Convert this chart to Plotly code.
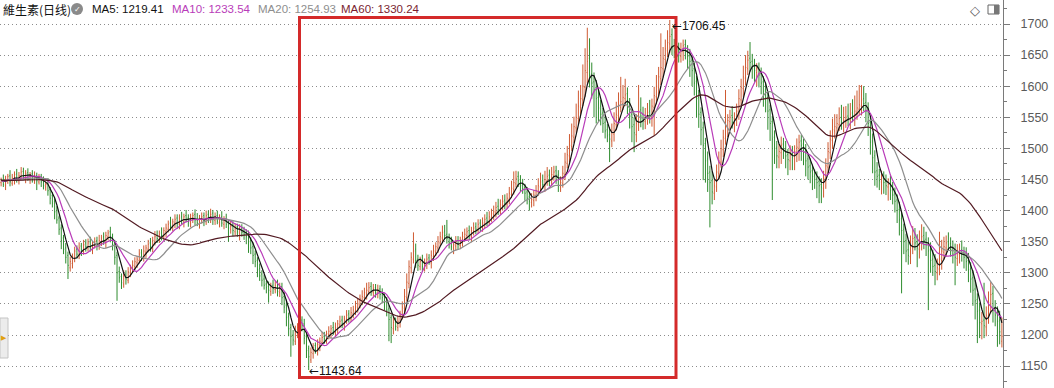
import plotly.graph_objects as go
import pandas as pd

# ---- data ----
hist_close = [1452, 1458, 1446, 1440, 1448, 1455, 1462, 1450, 1444, 1438,
              1446, 1452, 1460, 1455, 1448, 1442, 1436, 1444, 1450, 1458,
              1463, 1455, 1447, 1440, 1435, 1442, 1450, 1456, 1448, 1441,
              1437, 1445, 1452, 1458, 1450, 1444, 1439, 1446, 1454, 1460,
              1452, 1445, 1438, 1443, 1450, 1456, 1449, 1442, 1447, 1453,
              1458, 1450, 1444, 1440, 1446, 1452, 1457, 1450, 1445, 1449]

close = [
    1448, 1442, 1450, 1455, 1446, 1452, 1458, 1450, 1456, 1462,
    1455, 1460, 1452, 1458, 1450, 1455, 1448, 1453, 1446, 1440,
    1442, 1432, 1420, 1412, 1398, 1385, 1370, 1352, 1338, 1325,
    1312, 1318, 1326, 1335, 1330, 1340, 1336, 1345, 1342, 1348,
    1340, 1346, 1350, 1345, 1352, 1356, 1350, 1360, 1364, 1356,
    1345, 1325, 1300, 1292, 1284, 1295, 1290, 1302, 1308, 1312,
    1318, 1322, 1330, 1326, 1335, 1340, 1346, 1342, 1352, 1358,
    1355, 1362, 1360, 1368, 1372, 1378, 1375, 1382, 1386, 1380,
    1388, 1384, 1390, 1386, 1382, 1388, 1392, 1385, 1380, 1387,
    1390, 1384, 1392, 1388, 1394, 1386, 1390, 1383, 1388, 1380,
    1385, 1378, 1372, 1375, 1368, 1372, 1366, 1370, 1365, 1362,
    1358, 1350, 1340, 1328, 1318, 1305, 1295, 1288, 1280, 1276,
    1272, 1278, 1275, 1280, 1270, 1276, 1260, 1245, 1228, 1210,
    1198, 1192, 1205, 1212, 1220, 1215, 1195, 1175, 1165, 1172,
    1180, 1176, 1185, 1190, 1196, 1194, 1202, 1206, 1210, 1205,
    1212, 1218, 1222, 1218, 1226, 1232, 1228, 1236, 1240, 1245,
    1250, 1258, 1262, 1268, 1272, 1276, 1270, 1274, 1268, 1272,
    1265, 1260, 1252, 1240, 1225, 1212, 1220, 1214, 1222, 1232,
    1245, 1262, 1285, 1310, 1325, 1335, 1320, 1312, 1318, 1310,
    1316, 1322, 1318, 1328, 1335, 1342, 1350, 1358, 1365, 1360,
    1355, 1348, 1342, 1345, 1350, 1346, 1352, 1358, 1362, 1366,
    1360, 1368, 1372, 1370, 1378, 1375, 1380, 1386, 1383, 1390,
    1395, 1398, 1405, 1402, 1410, 1415, 1412, 1420, 1428, 1436,
    1445, 1452, 1448, 1440, 1435, 1428, 1420, 1415, 1418, 1425,
    1432, 1440, 1446, 1442, 1450, 1455, 1448, 1458, 1462, 1455,
    1440, 1445, 1460, 1478, 1490, 1505, 1520, 1535, 1550, 1568,
    1580, 1600, 1625, 1640, 1618, 1605, 1595, 1580, 1565, 1555,
    1540, 1528, 1520, 1515, 1525, 1540, 1555, 1568, 1575, 1582,
    1586, 1570, 1552, 1535, 1525, 1540, 1560, 1552, 1545, 1550,
    1558, 1552, 1568, 1585, 1600, 1615, 1630, 1645, 1660, 1670,
    1680, 1662, 1655, 1660, 1650, 1658, 1665, 1655, 1648, 1640,
    1625, 1605, 1580, 1555, 1530, 1505, 1480, 1460, 1445, 1430,
    1440, 1462, 1480, 1500, 1518, 1535, 1545, 1550, 1542, 1548,
    1560, 1580, 1598, 1615, 1630, 1642, 1638, 1632, 1625, 1628,
    1618, 1605, 1592, 1580, 1560, 1540, 1515, 1500, 1488, 1495,
    1505, 1498, 1488, 1482, 1490, 1485, 1495, 1502, 1510, 1505,
    1495, 1480, 1470, 1462, 1455, 1450, 1445, 1440, 1438, 1452,
    1472, 1495, 1515, 1530, 1535, 1540, 1548, 1542, 1545, 1550,
    1548, 1555, 1552, 1560, 1565, 1570, 1578, 1572, 1560, 1540,
    1510, 1485, 1462, 1455, 1448, 1452, 1445, 1440, 1442, 1432,
    1425, 1415, 1400, 1385, 1368, 1350, 1335, 1328, 1342, 1355,
    1348, 1340, 1350, 1358, 1352, 1345, 1335, 1320, 1310, 1302,
    1308, 1322, 1335, 1342, 1348, 1345, 1338, 1330, 1325, 1332,
    1335, 1330, 1325, 1318, 1305, 1290, 1272, 1255, 1238, 1220,
    1222, 1215, 1232, 1252, 1265, 1240, 1232, 1222, 1205, 1198]

open_ = [
    1445, 1450, 1441, 1448, 1456, 1444, 1451, 1459, 1448, 1455,
    1463, 1452, 1461, 1450, 1459, 1449, 1456, 1446, 1455, 1448,
    1438, 1444, 1434, 1424, 1415, 1400, 1388, 1372, 1356, 1340,
    1328, 1308, 1315, 1322, 1338, 1328, 1343, 1334, 1348, 1340,
    1350, 1338, 1344, 1352, 1343, 1350, 1358, 1348, 1358, 1366,
    1358, 1346, 1328, 1302, 1294, 1282, 1298, 1288, 1300, 1306,
    1310, 1316, 1320, 1332, 1324, 1333, 1338, 1348, 1340, 1350,
    1360, 1353, 1364, 1358, 1366, 1370, 1380, 1373, 1380, 1388,
    1378, 1390, 1382, 1392, 1388, 1380, 1386, 1394, 1387, 1378,
    1385, 1392, 1382, 1394, 1386, 1396, 1384, 1392, 1381, 1390,
    1378, 1387, 1380, 1370, 1377, 1366, 1374, 1364, 1372, 1367,
    1364, 1360, 1352, 1342, 1330, 1320, 1307, 1298, 1290, 1282,
    1278, 1270, 1280, 1273, 1284, 1268, 1278, 1262, 1248, 1230,
    1212, 1200, 1190, 1203, 1210, 1224, 1218, 1198, 1178, 1160,
    1170, 1183, 1174, 1183, 1188, 1198, 1192, 1200, 1204, 1212,
    1203, 1210, 1216, 1224, 1216, 1224, 1234, 1226, 1234, 1238,
    1243, 1248, 1256, 1260, 1266, 1270, 1278, 1268, 1276, 1266,
    1274, 1267, 1262, 1254, 1242, 1228, 1210, 1222, 1212, 1220,
    1230, 1243, 1260, 1283, 1308, 1322, 1338, 1322, 1310, 1320,
    1308, 1314, 1324, 1316, 1326, 1333, 1340, 1348, 1356, 1367,
    1362, 1357, 1350, 1340, 1343, 1352, 1344, 1350, 1356, 1360,
    1368, 1358, 1366, 1374, 1368, 1380, 1373, 1378, 1388, 1381,
    1388, 1393, 1396, 1407, 1400, 1408, 1417, 1410, 1418, 1426,
    1434, 1443, 1455, 1450, 1442, 1437, 1430, 1422, 1413, 1416,
    1423, 1430, 1438, 1448, 1440, 1448, 1457, 1446, 1456, 1464,
    1457, 1438, 1443, 1458, 1476, 1488, 1503, 1518, 1533, 1548,
    1566, 1578, 1598, 1622, 1645, 1620, 1607, 1598, 1582, 1568,
    1557, 1542, 1530, 1522, 1512, 1523, 1538, 1553, 1566, 1572,
    1580, 1588, 1572, 1555, 1538, 1522, 1538, 1562, 1555, 1543,
    1548, 1560, 1550, 1566, 1583, 1598, 1612, 1628, 1643, 1657,
    1668, 1683, 1664, 1652, 1662, 1648, 1656, 1667, 1657, 1650,
    1642, 1628, 1608, 1582, 1558, 1533, 1508, 1483, 1462, 1448,
    1428, 1438, 1460, 1478, 1498, 1516, 1533, 1543, 1553, 1540,
    1546, 1558, 1578, 1596, 1613, 1628, 1645, 1640, 1634, 1622,
    1630, 1620, 1607, 1594, 1582, 1562, 1543, 1518, 1502, 1486,
    1493, 1507, 1500, 1490, 1480, 1492, 1483, 1493, 1500, 1512,
    1507, 1497, 1483, 1472, 1464, 1457, 1452, 1447, 1442, 1436,
    1450, 1470, 1493, 1513, 1528, 1533, 1538, 1550, 1540, 1543,
    1552, 1546, 1557, 1550, 1558, 1563, 1568, 1580, 1574, 1562,
    1542, 1512, 1488, 1464, 1457, 1446, 1454, 1447, 1438, 1444,
    1434, 1427, 1417, 1402, 1387, 1370, 1352, 1337, 1326, 1340,
    1357, 1350, 1338, 1348, 1360, 1354, 1347, 1337, 1322, 1312,
    1300, 1306, 1320, 1333, 1340, 1350, 1347, 1340, 1332, 1323,
    1330, 1337, 1332, 1327, 1320, 1307, 1292, 1274, 1257, 1240,
    1218, 1224, 1213, 1230, 1250, 1267, 1242, 1234, 1224, 1190]

# upper / lower shadow lengths of each bar
up_wick = [
    5, 8, 6, 4, 9, 7, 5, 8, 6, 8,
    6, 5, 7, 4, 6, 8, 5, 6, 4, 7,
    5, 8, 4, 6, 5, 7, 4, 6, 5, 8,
    6, 8, 5, 7, 6, 9, 5, 8, 6, 7,
    8, 5, 7, 6, 9, 5, 7, 6, 5, 8,
    5, 7, 6, 8, 5, 9, 6, 7, 5, 8,
    7, 5, 8, 6, 9, 5, 7, 8, 6, 9,
    8, 6, 9, 5, 7, 6, 10, 5, 8, 6,
    6, 8, 5, 9, 6, 7, 5, 8, 9, 6,
    7, 5, 8, 6, 9, 5, 7, 8, 6, 9,
    6, 8, 5, 9, 6, 7, 5, 8, 6, 7,
    6, 8, 5, 7, 6, 5, 8, 6, 7, 5,
    8, 6, 9, 7, 5, 8, 6, 7, 9, 6,
    6, 8, 10, 7, 9, 6, 8, 7, 5, 8,
    7, 5, 8, 6, 9, 7, 5, 8, 6, 9,
    8, 6, 9, 7, 5, 8, 6, 9, 7, 10,
    9, 7, 10, 8, 12, 9, 7, 8, 6, 9,
    6, 8, 5, 7, 6, 5, 9, 6, 8, 7,
    9, 12, 14, 10, 8, 30, 9, 7, 8, 9,
    7, 9, 6, 8, 10, 7, 9, 8, 11, 10,
    23, 6, 8, 5, 9, 7, 6, 8, 9, 7,
    8, 6, 9, 7, 8, 6, 9, 8, 10, 9,
    8, 10, 9, 12, 8, 10, 9, 8, 10, 12,
    18, 12, 8, 7, 9, 6, 8, 7, 10, 8,
    9, 12, 15, 10, 14, 15, 9, 12, 10, 8,
    8, 10, 12, 15, 14, 18, 20, 16, 22, 25,
    22, 35, 36, 54, 32, 18, 15, 12, 14, 10,
    8, 10, 9, 12, 15, 18, 20, 22, 40, 20,
    26, 10, 9, 8, 12, 15, 42, 20, 12, 15,
    15, 18, 12, 14, 18, 16, 55, 18, 15, 20,
    26.45, 10, 12, 9, 8, 12, 10, 8, 9, 10,
    8, 10, 9, 12, 8, 10, 9, 12, 10, 15,
    10, 12, 15, 14, 12, 59, 10, 12, 15, 10,
    12, 15, 14, 18, 20, 15, 26, 12, 10, 9,
    8, 10, 9, 12, 10, 8, 9, 11, 10, 12,
    14, 10, 12, 9, 15, 12, 10, 14, 12, 10,
    9, 10, 8, 12, 10, 9, 11, 8, 10, 12,
    12, 15, 14, 18, 20, 15, 18, 20, 22, 18,
    20, 18, 22, 25, 28, 32, 24, 20, 15, 12,
    10, 12, 9, 14, 10, 12, 9, 11, 10, 12,
    12, 10, 9, 12, 10, 9, 11, 15, 18, 20,
    15, 12, 18, 20, 14, 12, 10, 12, 15, 18,
    15, 44, 18, 16, 12, 15, 10, 12, 15, 14,
    12, 15, 10, 14, 12, 10, 12, 14, 10, 12,
    15, 60, 14, 18, 20, 12, 14, 12, 15, 30]

down_wick = [
    6, 4, 8, 5, 7, 4, 9, 5, 6, 4,
    5, 8, 4, 7, 5, 6, 15, 4, 8, 6,
    6, 8, 10, 7, 12, 6, 9, 14, 8, 10,
    22, 6, 8, 5, 7, 6, 9, 5, 8, 6,
    6, 8, 5, 9, 6, 7, 5, 8, 6, 7,
    9, 12, 45, 8, 10, 6, 9, 5, 7, 6,
    6, 8, 5, 7, 6, 9, 5, 8, 7, 6,
    7, 5, 8, 6, 9, 5, 7, 6, 8, 9,
    8, 6, 9, 5, 8, 7, 6, 9, 5, 7,
    6, 9, 5, 8, 6, 9, 7, 5, 8, 6,
    8, 6, 22, 7, 9, 6, 8, 12, 7, 9,
    12, 18, 10, 14, 9, 12, 8, 10, 7, 9,
    20, 7, 9, 6, 8, 7, 12, 10, 14, 12,
    33, 9, 6, 8, 7, 9, 10, 12, 21.36, 5,
    8, 6, 7, 9, 5, 8, 6, 7, 9, 5,
    6, 8, 5, 7, 9, 6, 8, 5, 7, 6,
    7, 5, 8, 6, 9, 5, 7, 6, 8, 7,
    8, 9, 12, 10, 35, 25, 9, 7, 6, 8,
    5, 7, 6, 8, 9, 7, 12, 9, 6, 8,
    6, 8, 5, 9, 7, 6, 8, 5, 7, 6,
    8, 9, 6, 10, 7, 9, 6, 8, 5, 7,
    7, 9, 6, 8, 5, 9, 7, 6, 8, 5,
    6, 8, 7, 9, 6, 8, 10, 7, 8, 6,
    8, 6, 10, 9, 8, 12, 10, 15, 8, 9,
    8, 6, 9, 7, 10, 8, 9, 6, 8, 12,
    10, 8, 6, 9, 8, 10, 7, 9, 8, 10,
    12, 10, 15, 18, 20, 25, 45, 40, 22, 18,
    15, 12, 10, 37, 10, 12, 9, 11, 8, 10,
    12, 15, 20, 25, 31, 12, 10, 18, 15, 12,
    10, 12, 15, 45, 12, 15, 10, 14, 12, 10,
    15, 12, 10, 14, 12, 10, 15, 12, 20, 25,
    25, 20, 30, 22, 25, 56, 35, 30, 72, 20,
    11, 8, 10, 9, 12, 10, 15, 12, 10, 14,
    10, 12, 9, 14, 12, 10, 15, 20, 18, 22,
    20, 18, 25, 22, 30, 28, 98, 25, 20, 18,
    18, 15, 20, 25, 15, 20, 18, 15, 20, 25,
    22, 25, 20, 18, 22, 15, 25, 28, 26, 15,
    15, 12, 10, 14, 12, 15, 10, 12, 14, 10,
    12, 15, 10, 14, 12, 10, 15, 12, 18, 20,
    20, 25, 22, 18, 15, 20, 18, 15, 22, 15,
    15, 18, 20, 25, 101, 20, 18, 15, 12, 10,
    12, 31, 15, 12, 14, 18, 95, 20, 15, 22,
    12, 10, 15, 12, 14, 10, 12, 15, 45, 12,
    15, 12, 18, 15, 20, 22, 25, 30, 51, 25,
    25, 20, 15, 12, 15, 20, 18, 41, 20, 10]

ma_labels = ["MA5: 1219.41", "MA10: 1233.54", "MA20: 1254.93", "MA60: 1330.24"]
ma_windows = [5, 10, 20, 60]
ma_colors = ["#111111", "#b93cb9", "#8e8e8e", "#521a22"]
title_text = "維生素(日线)"
y_ticks = [1150, 1200, 1250, 1300, 1350, 1400, 1450, 1500, 1550, 1600, 1650, 1700]
low_label, low_idx, low_val = "1143.64", 138, 1143.64
high_label, high_idx, high_val = "1706.45", 300, 1706.45

# ---- build ----
n = len(close)
x = list(range(n))
high = [max(o, c) + u for o, c, u in zip(open_, close, up_wick)]
low = [min(o, c) - d for o, c, d in zip(open_, close, down_wick)]

series = pd.Series(hist_close + close, dtype=float)

W, H = 1054, 388
PW = 1003  # plot width in px


def px(xp):
    return xp / PW


def py(yp):
    return 1 - yp / H


fig = go.Figure()
fig.add_trace(go.Ohlc(
    x=x, open=open_, high=high, low=low, close=close,
    increasing=dict(line=dict(color="#cf5a32", width=1)),
    decreasing=dict(line=dict(color="#2e8c2e", width=1)),
    tickwidth=0.3, hoverinfo="skip", showlegend=False))

for w, col in zip(ma_windows, ma_colors):
    ma = series.rolling(w).mean().iloc[-n:].tolist()
    fig.add_trace(go.Scatter(x=x, y=ma, mode="lines",
                             line=dict(color=col, width=1.2),
                             hoverinfo="skip", showlegend=False))

font_main = "Liberation Sans, Arial, Noto Sans CJK SC, sans-serif"
arrow = "<span style='font-family:DejaVu Sans'>←</span>"
annotations = []
annotations.append(dict(xref="paper", yref="paper", x=px(1), y=py(9),
                        xanchor="left", yanchor="middle", showarrow=False,
                        text=title_text, font=dict(size=12, color="#111", family="Noto Sans CJK SC, sans-serif")))
ma_x = [90, 170, 256, 339]
for lab, col, xp in zip(ma_labels, ma_colors, ma_x):
    c = "#7a1e30" if lab.startswith("MA60") else col
    annotations.append(dict(xref="paper", yref="paper", x=px(xp), y=py(9),
                            xanchor="left", yanchor="middle", showarrow=False,
                            text=lab, font=dict(size=11.5, color=c, family=font_main)))
annotations.append(dict(xref="paper", yref="paper", x=px(77), y=py(9),
                        xanchor="center", yanchor="middle", showarrow=False,
                        text="✓", font=dict(size=8, color="white", family="DejaVu Sans")))
annotations.append(dict(xref="paper", yref="paper", x=px(975), y=py(10),
                        xanchor="center", yanchor="middle", showarrow=False,
                        text="◇", font=dict(size=13, color="#555", family="DejaVu Sans")))
annotations.append(dict(xref="paper", yref="paper", x=px(4), y=py(338),
                        xanchor="center", yanchor="middle", showarrow=False,
                        text="▶", font=dict(size=7, color="#e0a010", family="DejaVu Sans")))
annotations.append(dict(x=low_idx, y=low_val, xanchor="left", yanchor="middle",
                        showarrow=False, text=arrow + low_label, xshift=-2, yshift=-1,
                        font=dict(size=12, color="#111", family=font_main)))
annotations.append(dict(x=high_idx, y=1697, xanchor="left", yanchor="middle",
                        showarrow=False, text=arrow + high_label, xshift=0,
                        font=dict(size=12, color="#111", family=font_main)))

shapes = [
    dict(type="rect", xref="paper", yref="paper", x0=px(299.5), x1=px(676),
         y0=py(377.5), y1=py(17.5), line=dict(color="#d42a2a", width=3)),
    dict(type="circle", xref="paper", yref="paper", x0=px(71), x1=px(83),
         y0=py(15), y1=py(3), fillcolor="#8a8a8a", line=dict(width=0)),
    dict(type="rect", xref="paper", yref="paper", x0=px(988), x1=px(999),
         y0=py(14), y1=py(5), fillcolor="white", line=dict(color="#666", width=1)),
    dict(type="rect", xref="paper", yref="paper", x0=px(994), x1=px(999),
         y0=py(14), y1=py(5), fillcolor="#777", line=dict(width=0)),
    dict(type="rect", xref="paper", yref="paper", x0=0, x1=px(8),
         y0=py(358), y1=py(318), fillcolor="#ececec", line=dict(color="#c4c4c4", width=1)),
]

y_top = 1700 + 24 / 0.622
y_bot = 1700 - 364 / 0.622

fig.update_layout(
    width=W, height=H,
    margin=dict(l=0, r=W - PW, t=0, b=0),
    paper_bgcolor="white", plot_bgcolor="white",
    showlegend=False, hovermode=False,
    annotations=annotations, shapes=shapes,
    xaxis=dict(range=[-0.5, n - 0.5], showgrid=False, zeroline=False,
               showticklabels=False, ticks="", showline=False,
               rangeslider=dict(visible=False), fixedrange=True),
    yaxis=dict(range=[y_bot, y_top], side="right", tickvals=y_ticks,
               showgrid=True, gridcolor="#8c8c8c", gridwidth=1, griddash="1px,3px",
               zeroline=False, showline=True, linecolor="#7a7a7a", linewidth=1,
               ticks="outside", ticklen=6, tickcolor="#7a7a7a",
               ticklabelstandoff=8, fixedrange=True,
               minor=dict(dtick=25, ticks="outside", ticklen=3, tickcolor="#7a7a7a",
                          showgrid=False),
               tickfont=dict(size=12.5, color="#5a5a5a", family=font_main)),
)

fig.write_html("out.html", config={"displayModeBar": False},
               post_script="document.body.style.margin='0';document.body.style.overflow='hidden';")
